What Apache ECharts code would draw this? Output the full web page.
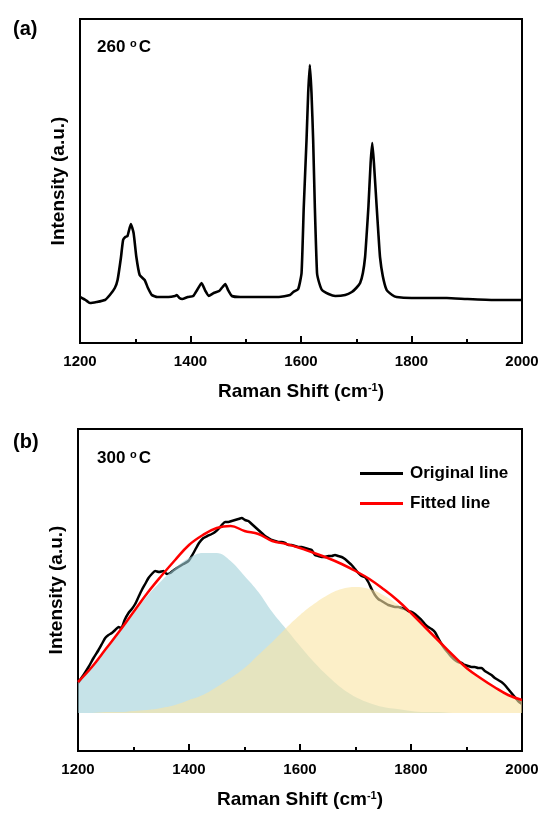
<!DOCTYPE html>
<html><head><meta charset="utf-8">
<script src="https://cdn.jsdelivr.net/npm/echarts@6/dist/echarts.min.js"></script>
<style>html,body{margin:0;padding:0;background:#fff}#c{width:546px;height:814px}</style>
</head><body><div id="c"></div>
<script>
// Panel (a): Raman spectrum at 260 °C
const shiftA = [1200,1210,1218,1230,1245,1254,1263,1268,1274,1278,1282,1286,1292,1297,1302,1308,1317,1323,1330,1340,1360,1372,1375,1380,1385,1395,1405,1412,1420,1427,1433,1442,1452,1458,1463,1468,1475,1490,1520,1560,1580,1586,1595,1601,1605,1610,1613,1616,1619,1622,1625,1629,1633,1638,1650,1662,1680,1692,1700,1707,1712,1716,1719,1722,1726,1729,1732,1737,1740,1743,1748,1755,1765,1773,1800,1830,1864,1900,1950,2000];
const intensityA = [46,43,40,41,43,48,55,63,85,103,106,107,119,110,86,68,63,55,48,46,46,47,48,45,44,46,47,53,60,52,47,50,52,56,59,53,47,46,46,46,48,51,54,70,136,203,250,278,250,203,137,70,60,53,49,47,48,51,55,60,70,86,110,136,180,200,180,136,110,86,67,53,48,46,45,45,45,44,43,43];

// Panel (b): original spectrum at 300 °C
const shiftB = [1200,1210,1219,1228,1237,1244,1249,1255,1261,1267,1273,1278,1284,1291,1297,1303,1309,1315,1321,1327,1333,1339,1346,1354,1360,1366,1373,1381,1390,1399,1405,1411,1418,1426,1433,1441,1447,1453,1459,1465,1471,1477,1483,1489,1495,1501,1507,1513,1519,1525,1531,1537,1543,1549,1555,1561,1567,1573,1579,1585,1591,1597,1603,1609,1615,1621,1627,1633,1639,1645,1651,1657,1663,1669,1675,1681,1687,1693,1699,1705,1711,1717,1723,1729,1735,1741,1747,1753,1759,1765,1771,1777,1783,1789,1795,1801,1807,1813,1819,1825,1831,1837,1843,1849,1855,1861,1867,1873,1879,1885,1891,1897,1903,1909,1915,1921,1927,1933,1939,1945,1951,1957,1963,1969,1975,1981,1987,1993,2000];
const intensityB = [30,38,46,55,63,70,75,78,80,83,86,85,93,100,104,109,116,123,129,135,139,142,141,142,139,140,143,146,149,152,157,163,170,175,177,179,181,184,188,191,191,192,193,194,195,193,192,189,186,183,180,177,175,173,172,171,171,170,168,168,167,166,166,165,164,163,158,157,156,156,157,157,158,157,156,154,151,148,144,140,137,136,131,124,118,114,112,110,108,107,106,106,105,104,102,101,99,96,93,89,86,84,81,75,69,64,60,56,53,51,50,48,47,46,46,45,45,42,40,38,35,33,31,28,24,20,16,12,9];

// Panel (b): fitted components
const fitShift = [1200,1225,1250,1275,1300,1325,1350,1375,1400,1425,1450,1475,1500,1525,1550,1575,1600,1625,1650,1675,1700,1725,1750,1775,1800,1825,1850,1875,1900,1925,1950,1975,2000];
const bandBlue = [31,46,63,81,99,117,132,145,155,160,160,152,137,121,101,84,67,51,37,25,16,10,6,4,2,1,1,0,0,0,0,0,0];
const bandYellow = [0,0,1,1,2,3,5,8,13,18,26,35,45,58,71,85,98,109,118,124,126,124,118,109,98,85,71,58,45,35,26,18,13];
const fittedLine = [31,46,64,82,101,120,137,153,168,178,185,187,182,179,172,169,165,160,155,149,142,134,124,113,100,86,72,58,45,35,26,18,13];

const xTicks = {min:1200, max:2000, interval:200};
const FONT = "'Liberation Sans', Arial, sans-serif";

const zip = (a,b) => a.map((v,i)=>[v,b[i]]);

function xAxisCfg(gi){
  return {
    gridIndex: gi, type:'value', min:xTicks.min, max:xTicks.max, interval:xTicks.interval,
    axisLine:{show:true, onZero:false, lineStyle:{color:'#000', width:2}},
    axisTick:{show:true, inside:true, interval:0, length:7, lineStyle:{color:'#000', width:2}},
    minorTick:{show:true, splitNumber:2, length:4, lineStyle:{color:'#000', width:2}},
    splitLine:{show:false},
    axisLabel:{color:'#000', fontWeight:'bold', fontSize:15, fontFamily:FONT, margin:11, formatter:(v)=>String(v)},
    name:'Raman Shift (cm{sup|-1})', nameLocation:'middle', nameGap:39,
    nameTextStyle:{color:'#000', fontWeight:'bold', fontSize:19, fontFamily:FONT,
      rich:{sup:{fontSize:11, fontWeight:'bold', fontFamily:FONT, color:'#000', verticalAlign:'top', padding:[0,0,7,0]}}}
  };
}
function yAxisCfg(gi,min,max){
  return {
    gridIndex: gi, type:'value', min:min, max:max,
    axisLine:{show:true, lineStyle:{color:'#000', width:2}},
    axisTick:{show:false}, axisLabel:{show:false}, splitLine:{show:false},
    name:'Intensity (a.u.)', nameLocation:'middle', nameGap:12,
    nameTextStyle:{color:'#000', fontWeight:'bold', fontSize:19, fontFamily:FONT}
  };
}

const supStyle = {fontSize:11, fontWeight:'bold', color:'#000', fontFamily:FONT, verticalAlign:'top', padding:[0,2,7,0]};

const chart = echarts.init(document.getElementById('c'), null, {renderer:'canvas'});
chart.setOption({
  backgroundColor:'#fff',
  animation:false,
  grid:[
    {left:80, top:19, width:442, height:324, show:true, borderColor:'#000', borderWidth:2},
    {left:78, top:429, width:444, height:322, show:true, borderColor:'#000', borderWidth:2}
  ],
  xAxis:[xAxisCfg(0), xAxisCfg(1)],
  yAxis:[yAxisCfg(0,0,324), yAxisCfg(1,-38,284)],
  legend:{
    left:355, top:460, orient:'vertical', itemGap:13, itemWidth:43, itemHeight:3, icon:'rect',
    data:['Original line','Fitted line'],
    textStyle:{color:'#000', fontWeight:'bold', fontSize:17, lineHeight:17, fontFamily:FONT, padding:[0,0,0,2]}
  },
  title:[
    {text:'(a)', left:8, top:14, textStyle:{color:'#000', fontWeight:'bold', fontSize:20, fontFamily:FONT}},
    {text:'(b)', left:8, top:427, textStyle:{color:'#000', fontWeight:'bold', fontSize:20, fontFamily:FONT}},
    {text:'260 {s|o}C', left:92, top:33, textStyle:{color:'#000', fontWeight:'bold', fontSize:17, fontFamily:FONT, rich:{s:supStyle}}},
    {text:'300 {s|o}C', left:92, top:444, textStyle:{color:'#000', fontWeight:'bold', fontSize:17, fontFamily:FONT, rich:{s:supStyle}}}
  ],
  series:[
    {type:'line', xAxisIndex:0, yAxisIndex:0, data:zip(shiftA,intensityA), showSymbol:false, smooth:0.15,
      lineStyle:{color:'#000', width:2.6}, itemStyle:{color:'#000'}, silent:true},
    {name:'Original line', type:'line', xAxisIndex:1, yAxisIndex:1, data:zip(shiftB,intensityB), showSymbol:false, smooth:0.2,
      lineStyle:{color:'#000', width:2.5}, itemStyle:{color:'#000'}, z:2},
    {type:'line', xAxisIndex:1, yAxisIndex:1, data:zip(fitShift,bandBlue), showSymbol:false, smooth:0.4,
      lineStyle:{width:0}, areaStyle:{color:'rgba(160,208,217,0.6)', opacity:1}, z:3},
    {type:'line', xAxisIndex:1, yAxisIndex:1, data:zip(fitShift,bandYellow), showSymbol:false, smooth:0.4,
      lineStyle:{width:0}, areaStyle:{color:'rgba(250,228,163,0.6)', opacity:1}, z:4},
    {name:'Fitted line', type:'line', xAxisIndex:1, yAxisIndex:1, data:zip(fitShift,fittedLine), showSymbol:false, smooth:0.4,
      lineStyle:{color:'#ff0000', width:2.5}, itemStyle:{color:'#ff0000'}, z:5}
  ]
});
</script>
</body></html>
